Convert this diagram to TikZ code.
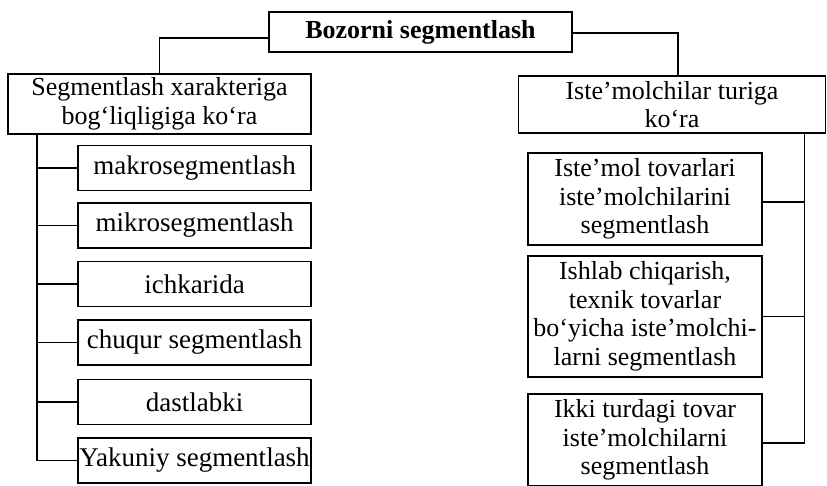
\documentclass[tikz,border=0pt]{standalone}
\usepackage{fontspec}
\setmainfont{Liberation Serif}
\begin{document}
\begin{tikzpicture}[x=1pt,y=-1pt,
  box/.style={draw, line width=1.8pt, inner sep=0pt, align=center, font=\fontsize{26}{28.5}\selectfont},
  conn/.style={line width=1.8pt}]
\useasboundingbox (0,0) rectangle (827,485);
\node[box, minimum width=303pt, minimum height=40pt, font=\fontsize{26}{28}\selectfont\bfseries] (top) at (420.5,32) {Bozorni segmentlash};
\node[box, minimum width=303pt, minimum height=60pt] (lh) at (159.5,104) {Segmentlash xarakteriga\\bog‘liqligiga ko‘ra};
\node[box, minimum width=307pt, minimum height=57pt] (rh) at (672,104.5) {Iste’molchilar turiga\\ko‘ra};
\tikzset{lc/.style={box, minimum width=233pt, minimum height=45pt, font=\fontsize{27}{28}\selectfont}}
\node[lc] (c1) at (194.5,168) {makrosegmentlash};
\node[lc] (c2) at (194.5,225.5) {mikrosegmentlash};
\node[lc] (c3) at (194.5,284) {ichkarida};
\node[lc] (c4) at (194.5,342.5) {chuqur segmentlash};
\node[lc] (c5) at (194.5,402) {dastlabki};
\node[lc] (c6) at (194.5,460.5) {Yakuniy segmentlash};
\node[box, minimum width=234pt, minimum height=92pt] (d1) at (645,199) {Iste’mol tovarlari\\iste’molchilarini\\segmentlash};
\node[box, minimum width=234pt, minimum height=121pt] (d2) at (645,316.5) {Ishlab chiqarish,\\texnik tovarlar\\bo‘yicha iste’molchi-\\larni segmentlash};
\node[box, minimum width=234pt, minimum height=92pt] (d3) at (645,440) {Ikki turdagi tovar\\iste’molchilarni\\segmentlash};
\draw[conn] ([yshift=-6pt]top.west) -| (lh.north);
\draw[conn] ([yshift=-1pt]top.east) -| ([xshift=6pt]rh.north);
\coordinate (lt) at ([xshift=30pt]lh.south west);
\draw[conn] (lt) |- (c6.west);
\foreach \n in {c1,c2,c3,c4,c5} \draw[conn] (\n.west) -- (\n.west -| lt);
\coordinate (rt) at ([xshift=-22pt]rh.south east);
\draw[conn] (rt) |- ([yshift=-3pt]d3.east);
\draw[conn] ([yshift=-3pt]d1.east) -- ([yshift=-3pt]d1.east -| rt);
\draw[conn] (d2.east) -- (d2.east -| rt);
\end{tikzpicture}
\end{document}
